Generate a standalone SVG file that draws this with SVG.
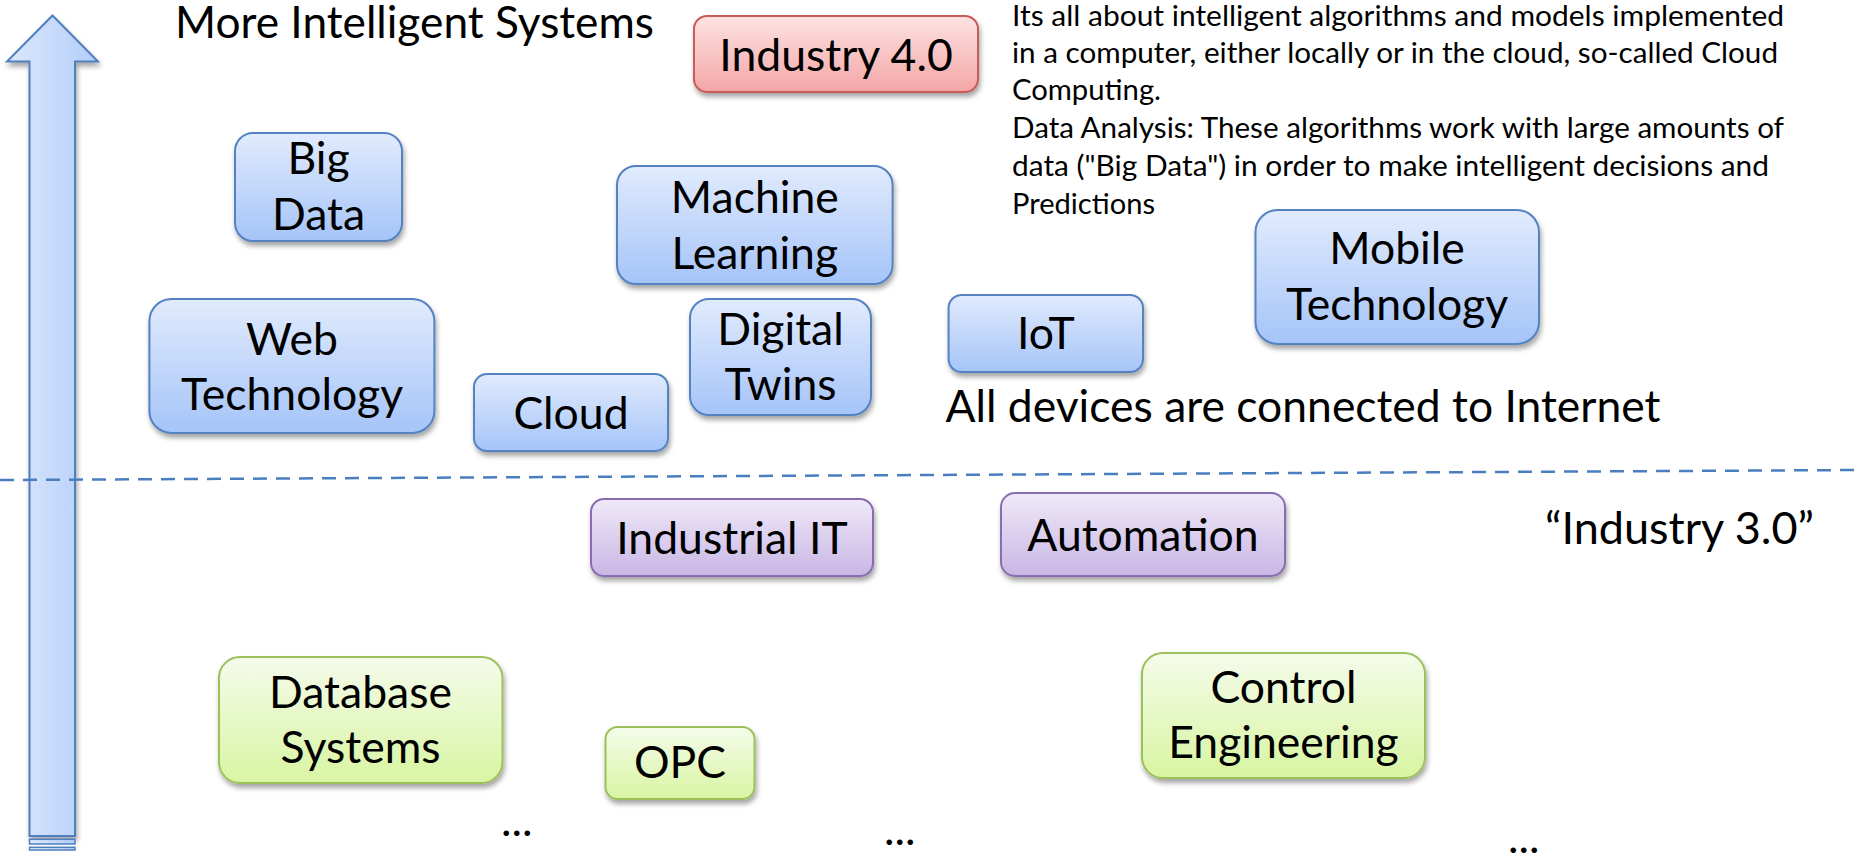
<svg xmlns="http://www.w3.org/2000/svg" width="1858" height="854" viewBox="0 0 1858 854">
  <defs>
    <style>
      .lbl { font-family: Lato, "Liberation Sans", sans-serif; font-size: 44.5px; fill: #000; text-anchor: middle; }
      .big { font-family: Lato, "Liberation Sans", sans-serif; font-size: 44.5px; fill: #000; }
      .para { font-family: Lato, "Liberation Sans", sans-serif; font-size: 28.5px; fill: #000; }
      .blue { fill: url(#gBlue); stroke: #5482c0; stroke-width: 2; filter: url(#shadow); }
      .red { fill: url(#gRed); stroke: #c75b58; stroke-width: 2; filter: url(#shadow); }
      .purple { fill: url(#gPurple); stroke: #8a6db0; stroke-width: 2; filter: url(#shadow); }
      .green { fill: url(#gGreen); stroke: #9cc05a; stroke-width: 2; filter: url(#shadow); }
    </style>
    <linearGradient id="gBlue" x1="0" y1="0" x2="0" y2="1">
      <stop offset="0" stop-color="#e1ebfd"/>
      <stop offset="1" stop-color="#a5c4f8"/>
    </linearGradient>
    <linearGradient id="gRed" x1="0" y1="0" x2="0" y2="1">
      <stop offset="0" stop-color="#fde2e2"/>
      <stop offset="1" stop-color="#f4a6a6"/>
    </linearGradient>
    <linearGradient id="gPurple" x1="0" y1="0" x2="0" y2="1">
      <stop offset="0" stop-color="#efe9f8"/>
      <stop offset="1" stop-color="#c9b6e5"/>
    </linearGradient>
    <linearGradient id="gGreen" x1="0" y1="0" x2="0" y2="1">
      <stop offset="0" stop-color="#f5fbeb"/>
      <stop offset="1" stop-color="#d8f5a2"/>
    </linearGradient>
    <linearGradient id="gArrow" x1="0" y1="0" x2="1" y2="0">
      <stop offset="0" stop-color="#dce8fd"/>
      <stop offset="1" stop-color="#b3cdf8"/>
    </linearGradient>
    <filter id="shadow" x="-10%" y="-10%" width="125%" height="135%">
      <feDropShadow dx="1.5" dy="4" stdDeviation="2.5" flood-color="#000" flood-opacity="0.35"/>
    </filter>
  </defs>

  <!-- upward arrow on the left edge -->
  <g id="arrow">
    <polygon points="52.5,15.5 98,61.5 75,61.5 75,836 29.5,836 29.5,61.5 7,61.5" fill="url(#gArrow)" stroke="#4f7fbe" stroke-width="2" filter="url(#shadow)"/>
    <rect x="29.5" y="839.3" width="45.5" height="4.7" fill="url(#gArrow)" stroke="#4f7fbe" stroke-width="1.5"/>
    <rect x="29.5" y="847.3" width="45.5" height="2.7" fill="url(#gArrow)" stroke="#4f7fbe" stroke-width="1.5"/>
  </g>

  <!-- separator between the two levels -->
  <g id="connectors">
    <line x1="0" y1="480" x2="1858" y2="470" stroke="#4a7ebf" stroke-width="2.5" stroke-dasharray="14 9"/>
  </g>

  <!-- free texts -->
  <g id="titles">
    <text class="big" x="175" y="37.5" textLength="479" lengthAdjust="spacingAndGlyphs">More Intelligent Systems</text>
    <text class="big" x="945.5" y="422" textLength="715" lengthAdjust="spacingAndGlyphs">All devices are connected to Internet</text>
    <text class="big" x="1545" y="544" textLength="269" lengthAdjust="spacingAndGlyphs">“Industry 3.0”</text>
  </g>

  <g id="description" class="para">
    <text x="1012" y="25.5" textLength="772" lengthAdjust="spacingAndGlyphs">Its all about intelligent algorithms and models implemented</text>
    <text x="1012" y="62.8" textLength="766" lengthAdjust="spacingAndGlyphs">in a computer, either locally or in the cloud, so-called Cloud</text>
    <text x="1012" y="100.4" textLength="149" lengthAdjust="spacingAndGlyphs">Computing.</text>
    <text x="1012" y="138.3" textLength="772" lengthAdjust="spacingAndGlyphs">Data Analysis: These algorithms work with large amounts of</text>
    <text x="1012" y="176.2" textLength="757" lengthAdjust="spacingAndGlyphs">data ("Big Data") in order to make intelligent decisions and</text>
    <text x="1012" y="214" textLength="143" lengthAdjust="spacingAndGlyphs">Predictions</text>
  </g>

  <!-- Industry 4.0 level -->
  <g id="industry40">
    <rect class="red" x="694" y="16" width="284" height="76" rx="13"/>
    <text class="lbl" x="836" y="71">Industry 4.0</text>
  </g>
  <g id="bigdata">
    <rect class="blue" x="235" y="133" width="167" height="108" rx="18"/>
    <text class="lbl" x="318.5" y="174">Big</text>
    <text class="lbl" x="318.5" y="230">Data</text>
  </g>
  <g id="machinelearning">
    <rect class="blue" x="617" y="166" width="275.6" height="118" rx="19"/>
    <text class="lbl" x="754.8" y="213">Machine</text>
    <text class="lbl" x="754.8" y="269">Learning</text>
  </g>
  <g id="webtech">
    <rect class="blue" x="149.4" y="299" width="285" height="134" rx="22"/>
    <text class="lbl" x="292" y="355">Web</text>
    <text class="lbl" x="292" y="410">Technology</text>
  </g>
  <g id="cloud">
    <rect class="blue" x="474" y="374" width="194" height="77" rx="13"/>
    <text class="lbl" x="571" y="429">Cloud</text>
  </g>
  <g id="digitaltwins">
    <rect class="blue" x="690" y="299" width="181" height="116" rx="19"/>
    <text class="lbl" x="780.5" y="345">Digital</text>
    <text class="lbl" x="780.5" y="400">Twins</text>
  </g>
  <g id="iot">
    <rect class="blue" x="948.6" y="295" width="194.4" height="77" rx="13"/>
    <text class="lbl" x="1046" y="349">IoT</text>
  </g>
  <g id="mobiletech">
    <rect class="blue" x="1255.5" y="210" width="283.5" height="134" rx="22"/>
    <text class="lbl" x="1397" y="264">Mobile</text>
    <text class="lbl" x="1397" y="320">Technology</text>
  </g>

  <!-- Industry 3.0 level -->
  <g id="industrialit">
    <rect class="purple" x="591" y="499" width="282" height="77" rx="13"/>
    <text class="lbl" x="732" y="554">Industrial IT</text>
  </g>
  <g id="automation">
    <rect class="purple" x="1001" y="493" width="284" height="83" rx="14"/>
    <text class="lbl" x="1143" y="551">Automation</text>
  </g>
  <g id="database">
    <rect class="green" x="219" y="657" width="283.5" height="126" rx="21"/>
    <text class="lbl" x="360.5" y="708">Database</text>
    <text class="lbl" x="360.5" y="763">Systems</text>
  </g>
  <g id="opc">
    <rect class="green" x="605.5" y="727" width="149" height="72" rx="12"/>
    <text class="lbl" x="680" y="778">OPC</text>
  </g>
  <g id="control">
    <rect class="green" x="1142" y="653" width="283" height="125" rx="21"/>
    <text class="lbl" x="1283.5" y="703">Control</text>
    <text class="lbl" x="1283.5" y="758">Engineering</text>
  </g>

  <!-- trailing ellipses -->
  <g id="ellipses" class="big">
    <text x="501" y="836">...</text>
    <text x="884" y="845">...</text>
    <text x="1508" y="853">...</text>
  </g>
</svg>
